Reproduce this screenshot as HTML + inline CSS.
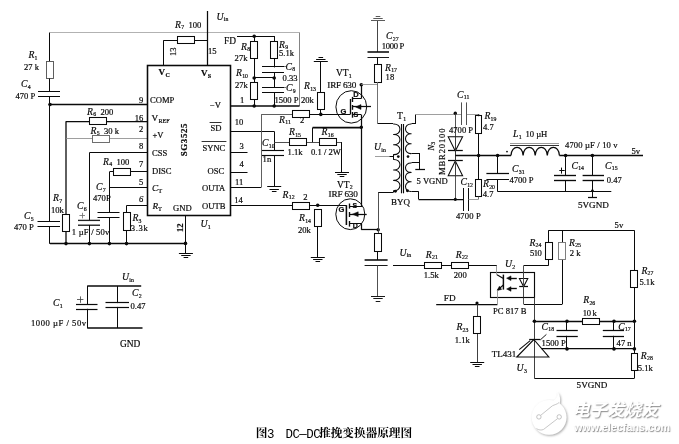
<!DOCTYPE html>
<html lang="zh">
<head>
<meta charset="utf-8">
<title>DC-DC推挽变换器原理图</title>
<style>
html,body{margin:0;padding:0;background:#fff;}
body{width:679px;height:444px;overflow:hidden;position:relative;}
svg{position:absolute;left:0;top:0;display:block;will-change:transform;filter:blur(0.35px);}
svg text{font-family:"Liberation Serif","Noto Serif CJK SC",serif;stroke:#0a0a0a;stroke-width:0.2px;}
.cap{position:absolute;left:0;top:426.2px;margin:0;width:679px;height:16px;font:700 11.7px/16px "Liberation Mono","Noto Serif CJK SC",serif;color:#000;white-space:pre;}
.cap span{position:absolute;top:0;}
.cap .l{font:12.4px/16px "Liberation Mono","Noto Serif CJK SC",monospace;letter-spacing:-0.45px;top:0.5px;}
.wm1{position:absolute;left:572.5px;top:399.5px;font:italic bold 17.2px/20px "Liberation Sans","Noto Sans CJK SC",sans-serif;color:#fff;text-shadow:0.9px 1px 1.3px #8a8a8a;white-space:nowrap;}
.wm2{position:absolute;left:574px;top:421.2px;font:bold 10.8px/12px "Liberation Sans",sans-serif;color:#fff;text-shadow:0.7px 0.9px 1.1px #858585;white-space:nowrap;}
</style>
</head>
<body>
<svg width="679" height="444" viewBox="0 0 679 444">
<defs><filter id="ds" x="-20%" y="-20%" width="150%" height="150%"><feGaussianBlur in="SourceAlpha" stdDeviation="0.9"/><feOffset dx="0.9" dy="1.1" result="b"/><feFlood flood-color="#8c8c8c" flood-opacity="0.75"/><feComposite in2="b" operator="in"/><feMerge><feMergeNode/><feMergeNode in="SourceGraphic"/></feMerge></filter></defs>
<g id="logo" fill="none">
<g filter="url(#ds)"><circle cx="549.1" cy="417.4" r="17.4" fill="#fff"/>
<path d="M552,401.5 C556,399.5 558.4,396 557.2,391.4 C560.4,395.6 561,400 559.2,404.6 Z" fill="#fff"/></g>
<path d="M540.6,415.4 L552.4,405.8 C554.6,404.6 557,404.4 559,402.6 M557.6,418.6 L543.6,429.4 C541.6,430.4 538.6,430.2 536.4,428.6" stroke="#b9b9b9" stroke-width="0.8"/>
<circle cx="538.9" cy="416.9" r="2.2" stroke="#b4b4b4" stroke-width="0.8" fill="#fff"/>
<circle cx="559.2" cy="416.9" r="2.2" stroke="#b4b4b4" stroke-width="0.8" fill="#fff"/>
</g>
<g id="schematic" stroke-linecap="butt">
<line x1="50" y1="32.5" x2="299.5" y2="32.5" stroke="#a2a2a2" stroke-width="0.83"/>
<line x1="299.5" y1="32.5" x2="299.5" y2="106" stroke="#7c7c7c" stroke-width="0.94"/>
<line x1="49.5" y1="32.5" x2="49.5" y2="61.8" stroke="#0a0a0a" stroke-width="1.04"/>
<rect x="46.5" y="61.5" width="7" height="17" fill="#fff" stroke="#555" stroke-width="0.94"/>
<line x1="49.5" y1="78.5" x2="49.5" y2="91.4" stroke="#0a0a0a" stroke-width="1.04"/>
<line x1="38" y1="91.5" x2="60" y2="91.5" stroke="#0a0a0a" stroke-width="1.04"/>
<line x1="38" y1="96.5" x2="60" y2="96.5" stroke="#0a0a0a" stroke-width="1.04"/>
<line x1="49.5" y1="96.8" x2="49.5" y2="222" stroke="#0a0a0a" stroke-width="1.04"/>
<circle cx="50" cy="104.5" r="1.8" fill="#0a0a0a"/>
<line x1="50" y1="104.5" x2="147" y2="104.5" stroke="#0a0a0a" stroke-width="1.3"/>
<line x1="37.5" y1="221.5" x2="60" y2="221.5" stroke="#0a0a0a" stroke-width="1.04"/>
<line x1="37.5" y1="226.5" x2="60" y2="226.5" stroke="#0a0a0a" stroke-width="1.04"/>
<line x1="49.5" y1="227" x2="49.5" y2="243.8" stroke="#0a0a0a" stroke-width="1.04"/>
<line x1="66" y1="121.5" x2="147" y2="121.5" stroke="#0a0a0a" stroke-width="1.25"/>
<rect x="89.5" y="117.5" width="17" height="7" fill="#fff" stroke="#0a0a0a" stroke-width="1.04"/>
<line x1="66" y1="121.3" x2="66" y2="214" stroke="#0a0a0a" stroke-width="1.3"/>
<rect x="62.5" y="214.5" width="7" height="17" fill="#fff" stroke="#0a0a0a" stroke-width="1.04"/>
<line x1="66" y1="232" x2="66" y2="243.8" stroke="#0a0a0a" stroke-width="1.3"/>
<circle cx="66" cy="243.6" r="1.8" fill="#0a0a0a"/>
<line x1="66" y1="138.5" x2="147" y2="138.5" stroke="#8a8a8a" stroke-width="0.83"/>
<rect x="92.5" y="135.5" width="17" height="7" fill="#fff" stroke="#666" stroke-width="0.94"/>
<line x1="89.4" y1="152.5" x2="147" y2="152.5" stroke="#0a0a0a" stroke-width="1.04"/>
<line x1="89.5" y1="152.7" x2="89.5" y2="220.5" stroke="#0a0a0a" stroke-width="1.04"/>
<line x1="78" y1="220.4" x2="100" y2="220.4" stroke="#222" stroke-width="1.35"/>
<line x1="78" y1="225.2" x2="100" y2="225.2" stroke="#0a0a0a" stroke-width="1.25"/>
<line x1="89.5" y1="225" x2="89.5" y2="243.8" stroke="#0a0a0a" stroke-width="1.04"/>
<circle cx="89.4" cy="243.6" r="1.8" fill="#0a0a0a"/>
<line x1="79.4" y1="215.5" x2="85" y2="215.5" stroke="#707070" stroke-width="0.83"/>
<line x1="82.5" y1="212.8" x2="82.5" y2="218.4" stroke="#707070" stroke-width="0.83"/>
<line x1="109.4" y1="171.5" x2="147" y2="171.5" stroke="#0a0a0a" stroke-width="1.04"/>
<rect x="113.5" y="168.5" width="17" height="7" fill="#fff" stroke="#0a0a0a" stroke-width="1.04"/>
<line x1="109.5" y1="172" x2="109.5" y2="212.5" stroke="#0a0a0a" stroke-width="1.04"/>
<line x1="109.4" y1="187.5" x2="147" y2="187.5" stroke="#0a0a0a" stroke-width="1.04"/>
<line x1="97.5" y1="212.5" x2="119.5" y2="212.5" stroke="#0a0a0a" stroke-width="1.04"/>
<line x1="97.5" y1="217.5" x2="119.5" y2="217.5" stroke="#0a0a0a" stroke-width="1.04"/>
<line x1="109.5" y1="218" x2="109.5" y2="243.8" stroke="#0a0a0a" stroke-width="1.04"/>
<circle cx="109.4" cy="243.6" r="1.8" fill="#0a0a0a"/>
<line x1="126.5" y1="205.5" x2="147" y2="205.5" stroke="#0a0a0a" stroke-width="1.04"/>
<line x1="126.5" y1="205.5" x2="126.5" y2="213" stroke="#0a0a0a" stroke-width="1.04"/>
<rect x="123.5" y="212.5" width="7" height="18" fill="#fff" stroke="#0a0a0a" stroke-width="1.04"/>
<line x1="126.5" y1="230.4" x2="126.5" y2="243.8" stroke="#0a0a0a" stroke-width="1.04"/>
<circle cx="126.5" cy="243.6" r="1.8" fill="#0a0a0a"/>
<line x1="50" y1="243.5" x2="185.5" y2="243.5" stroke="#0a0a0a" stroke-width="1.35"/>
<circle cx="185.5" cy="243.4" r="1.8" fill="#0a0a0a"/>
<line x1="185.5" y1="215" x2="185.5" y2="253.4" stroke="#0a0a0a" stroke-width="1.04"/>
<line x1="178.9" y1="253.5" x2="192.9" y2="253.5" stroke="#0a0a0a" stroke-width="1.04"/>
<line x1="181.2" y1="255.5" x2="190.6" y2="255.5" stroke="#0a0a0a" stroke-width="1.04"/>
<line x1="183.6" y1="257.5" x2="188.2" y2="257.5" stroke="#0a0a0a" stroke-width="1.04"/>
<rect x="147.5" y="65.5" width="83" height="150" fill="none" stroke="#0a0a0a" stroke-width="1.56"/>
<line x1="163.5" y1="40.3" x2="163.5" y2="65.5" stroke="#0a0a0a" stroke-width="1.04"/>
<line x1="163.5" y1="40.5" x2="207.5" y2="40.5" stroke="#0a0a0a" stroke-width="1.04"/>
<rect x="177.5" y="36.5" width="17" height="7" fill="#fff" stroke="#0a0a0a" stroke-width="1.04"/>
<line x1="207.5" y1="11" x2="207.5" y2="65.5" stroke="#0a0a0a" stroke-width="1.25"/>
<line x1="230.5" y1="106" x2="299.5" y2="106" stroke="#0a0a0a" stroke-width="1.4"/>
<line x1="230.5" y1="131.5" x2="274" y2="131.5" stroke="#0a0a0a" stroke-width="1.04"/>
<line x1="230.5" y1="152.5" x2="247.5" y2="152.5" stroke="#0a0a0a" stroke-width="1.04"/>
<line x1="230.5" y1="172.5" x2="247.5" y2="172.5" stroke="#0a0a0a" stroke-width="1.04"/>
<line x1="230.5" y1="187.5" x2="261.3" y2="187.5" stroke="#0a0a0a" stroke-width="1.04"/>
<line x1="261.5" y1="187.3" x2="261.5" y2="114.3" stroke="#555" stroke-width="0.94"/>
<line x1="261.3" y1="114.5" x2="292.5" y2="114.5" stroke="#555" stroke-width="0.94"/>
<line x1="230.5" y1="205.5" x2="292.5" y2="205.5" stroke="#0a0a0a" stroke-width="1.04"/>
<line x1="237" y1="36.5" x2="274.2" y2="36.5" stroke="#0a0a0a" stroke-width="1.04"/>
<circle cx="254.2" cy="36.2" r="1.8" fill="#0a0a0a"/>
<line x1="254.5" y1="36" x2="254.5" y2="106" stroke="#0a0a0a" stroke-width="1.04"/>
<rect x="250.5" y="41.5" width="7" height="17" fill="#fff" stroke="#0a0a0a" stroke-width="1.04"/>
<rect x="250.5" y="82.5" width="7" height="17" fill="#fff" stroke="#0a0a0a" stroke-width="1.04"/>
<circle cx="254.2" cy="78" r="1.8" fill="#0a0a0a"/>
<circle cx="254.2" cy="106" r="1.8" fill="#0a0a0a"/>
<line x1="274.5" y1="36" x2="274.5" y2="106" stroke="#0a0a0a" stroke-width="1.04"/>
<rect x="270.5" y="41.5" width="7" height="17" fill="#fff" stroke="#0a0a0a" stroke-width="1.04"/>
<line x1="254.2" y1="77.5" x2="274.2" y2="77.5" stroke="#0a0a0a" stroke-width="1.04"/>
<circle cx="274.2" cy="78" r="1.8" fill="#0a0a0a"/>
<circle cx="274.2" cy="106" r="1.8" fill="#0a0a0a"/>
<rect x="262" y="67.4" width="22" height="4.8" fill="#fff"/>
<rect x="262" y="87.8" width="22" height="4.8" fill="#fff"/>
<line x1="262" y1="66.5" x2="284" y2="66.5" stroke="#0a0a0a" stroke-width="1.04"/>
<line x1="262" y1="72.5" x2="284" y2="72.5" stroke="#0a0a0a" stroke-width="1.04"/>
<line x1="262" y1="87.5" x2="284" y2="87.5" stroke="#0a0a0a" stroke-width="1.04"/>
<line x1="262" y1="92.5" x2="284" y2="92.5" stroke="#0a0a0a" stroke-width="1.04"/>
<line x1="284" y1="66.5" x2="286" y2="66.5" stroke="#555" stroke-width="0.83"/>
<line x1="284" y1="87.5" x2="286" y2="87.5" stroke="#555" stroke-width="0.83"/>
<line x1="274.5" y1="131.3" x2="274.5" y2="151" stroke="#0a0a0a" stroke-width="1.04"/>
<line x1="262" y1="150.5" x2="284" y2="150.5" stroke="#0a0a0a" stroke-width="1.14"/>
<line x1="262" y1="155.5" x2="284" y2="155.5" stroke="#0a0a0a" stroke-width="1.14"/>
<line x1="274.5" y1="155.4" x2="274.5" y2="186.8" stroke="#0a0a0a" stroke-width="1.04"/>
<line x1="267.2" y1="186.5" x2="281.2" y2="186.5" stroke="#0a0a0a" stroke-width="1.04"/>
<line x1="269.5" y1="189.5" x2="278.9" y2="189.5" stroke="#0a0a0a" stroke-width="1.04"/>
<line x1="271.9" y1="191.5" x2="276.5" y2="191.5" stroke="#0a0a0a" stroke-width="1.04"/>
<line x1="274.2" y1="142.5" x2="342" y2="142.5" stroke="#444" stroke-width="0.94"/>
<rect x="289.5" y="138.5" width="17" height="7" fill="#fff" stroke="#0a0a0a" stroke-width="1.04"/>
<rect x="319.5" y="138.5" width="17" height="7" fill="#fff" stroke="#0a0a0a" stroke-width="1.04"/>
<line x1="341.5" y1="142.2" x2="341.5" y2="172.5" stroke="#0a0a0a" stroke-width="1.04"/>
<line x1="335" y1="172.5" x2="349" y2="172.5" stroke="#0a0a0a" stroke-width="1.04"/>
<line x1="337.3" y1="174.5" x2="346.7" y2="174.5" stroke="#0a0a0a" stroke-width="1.04"/>
<line x1="339.7" y1="176.5" x2="344.3" y2="176.5" stroke="#0a0a0a" stroke-width="1.04"/>
<rect x="292.5" y="110.5" width="17" height="7" fill="#fff" stroke="#0a0a0a" stroke-width="1.04"/>
<line x1="309.6" y1="114.5" x2="350.3" y2="114.5" stroke="#0a0a0a" stroke-width="1.04"/>
<circle cx="320.8" cy="114.4" r="1.8" fill="#0a0a0a"/>
<line x1="320.5" y1="62" x2="320.5" y2="93" stroke="#0a0a0a" stroke-width="1.04"/>
<line x1="313.8" y1="61.5" x2="327.8" y2="61.5" stroke="#0a0a0a" stroke-width="1.04"/>
<line x1="316.1" y1="59.5" x2="325.5" y2="59.5" stroke="#0a0a0a" stroke-width="1.04"/>
<line x1="318.5" y1="57.5" x2="323.1" y2="57.5" stroke="#0a0a0a" stroke-width="1.04"/>
<rect x="317.5" y="92.5" width="7" height="17" fill="#fff" stroke="#0a0a0a" stroke-width="1.04"/>
<line x1="320.5" y1="110" x2="320.5" y2="114.4" stroke="#0a0a0a" stroke-width="1.04"/>
<rect x="292.5" y="202.5" width="17" height="7" fill="#fff" stroke="#0a0a0a" stroke-width="1.04"/>
<line x1="309.7" y1="205.5" x2="346.4" y2="205.5" stroke="#0a0a0a" stroke-width="1.04"/>
<circle cx="317.7" cy="205.3" r="1.8" fill="#0a0a0a"/>
<rect x="314.5" y="209.5" width="7" height="17" fill="#fff" stroke="#0a0a0a" stroke-width="1.04"/>
<line x1="317.5" y1="226.5" x2="317.5" y2="257.5" stroke="#0a0a0a" stroke-width="1.04"/>
<line x1="310.8" y1="257.5" x2="324.8" y2="257.5" stroke="#0a0a0a" stroke-width="1.04"/>
<line x1="313.1" y1="259.5" x2="322.5" y2="259.5" stroke="#0a0a0a" stroke-width="1.04"/>
<line x1="315.5" y1="261.5" x2="320.1" y2="261.5" stroke="#0a0a0a" stroke-width="1.04"/>
<ellipse cx="351.3" cy="106.9" rx="15.4" ry="16.2" fill="none" stroke="#0a0a0a" stroke-width="1"/>
<circle cx="361.3" cy="84.8" r="1.8" fill="#0a0a0a"/>
<line x1="361.5" y1="84.8" x2="361.5" y2="98.6" stroke="#0a0a0a" stroke-width="1.25"/>
<line x1="352.6" y1="98.5" x2="361.3" y2="98.5" stroke="#0a0a0a" stroke-width="1.04"/>
<line x1="350.5" y1="99" x2="350.5" y2="114.4" stroke="#0a0a0a" stroke-width="1.35"/>
<line x1="352.5" y1="96.9" x2="352.5" y2="102" stroke="#0a0a0a" stroke-width="1.35"/>
<line x1="352.5" y1="105" x2="352.5" y2="109.8" stroke="#0a0a0a" stroke-width="1.35"/>
<line x1="352.5" y1="112" x2="352.5" y2="117.7" stroke="#0a0a0a" stroke-width="1.35"/>
<line x1="352.8" y1="106.5" x2="371" y2="106.5" stroke="#0a0a0a" stroke-width="1.25"/>
<polygon points="355.6,107 361,104.6 361,109.4" fill="#0a0a0a" stroke="#0a0a0a" stroke-width="0.52"/>
<line x1="352.8" y1="114.5" x2="361.3" y2="114.5" stroke="#0a0a0a" stroke-width="1.04"/>
<line x1="361.5" y1="114.7" x2="361.5" y2="127" stroke="#0a0a0a" stroke-width="1.25"/>
<circle cx="361.3" cy="127.2" r="1.7" fill="#0a0a0a"/>
<line x1="312.6" y1="127.6" x2="361.3" y2="127.6" stroke="#0a0a0a" stroke-width="1.66"/>
<line x1="312.5" y1="127.6" x2="312.5" y2="142.2" stroke="#0a0a0a" stroke-width="1.04"/>
<line x1="361.5" y1="127" x2="361.5" y2="207" stroke="#0a0a0a" stroke-width="1.25"/>
<line x1="361.3" y1="84.5" x2="378" y2="84.5" stroke="#8a8a8a" stroke-width="0.83"/>
<ellipse cx="350.3" cy="214.2" rx="14.5" ry="15.4" fill="none" stroke="#0a0a0a" stroke-width="1"/>
<line x1="346.4" y1="205.2" x2="346.4" y2="225" stroke="#0a0a0a" stroke-width="1.56"/>
<line x1="349.5" y1="203.5" x2="349.5" y2="208.6" stroke="#0a0a0a" stroke-width="1.35"/>
<line x1="349.5" y1="212" x2="349.5" y2="217" stroke="#0a0a0a" stroke-width="1.35"/>
<line x1="349.5" y1="221" x2="349.5" y2="226.6" stroke="#0a0a0a" stroke-width="1.35"/>
<line x1="349.3" y1="206.5" x2="361.5" y2="206.5" stroke="#0a0a0a" stroke-width="1.04"/>
<line x1="349.3" y1="214.5" x2="366.7" y2="214.5" stroke="#0a0a0a" stroke-width="1.25"/>
<polygon points="352.4,214.2 358.2,211.8 358.2,216.6" fill="#0a0a0a" stroke="#0a0a0a" stroke-width="0.52"/>
<line x1="349.3" y1="223.5" x2="361.2" y2="223.5" stroke="#0a0a0a" stroke-width="1.04"/>
<line x1="361.5" y1="223.6" x2="361.5" y2="229.7" stroke="#0a0a0a" stroke-width="1.25"/>
<line x1="361.2" y1="229.5" x2="378.2" y2="229.5" stroke="#0a0a0a" stroke-width="1.25"/>
<circle cx="378.2" cy="229.7" r="1.7" fill="#0a0a0a"/>
<line x1="378.5" y1="192.3" x2="378.5" y2="234" stroke="#444" stroke-width="0.94"/>
<rect x="374.5" y="233.5" width="7" height="18" fill="#fff" stroke="#0a0a0a" stroke-width="1.04"/>
<line x1="377.5" y1="251.5" x2="377.5" y2="260" stroke="#0a0a0a" stroke-width="1.04"/>
<line x1="364.6" y1="260" x2="387.6" y2="260" stroke="#0a0a0a" stroke-width="1.56"/>
<line x1="364.6" y1="265.5" x2="387.6" y2="265.5" stroke="#0a0a0a" stroke-width="0.94"/>
<line x1="377.5" y1="265.4" x2="377.5" y2="296.7" stroke="#444" stroke-width="0.94"/>
<line x1="371" y1="296.5" x2="385" y2="296.5" stroke="#0a0a0a" stroke-width="0.94"/>
<line x1="373.3" y1="298.5" x2="382.7" y2="298.5" stroke="#0a0a0a" stroke-width="0.94"/>
<line x1="375.7" y1="301.5" x2="380.3" y2="301.5" stroke="#0a0a0a" stroke-width="0.94"/>
<line x1="371" y1="20.5" x2="385" y2="20.5" stroke="#444" stroke-width="0.88"/>
<line x1="373.3" y1="18.5" x2="382.7" y2="18.5" stroke="#444" stroke-width="0.88"/>
<line x1="375.7" y1="16.5" x2="380.3" y2="16.5" stroke="#444" stroke-width="0.88"/>
<line x1="377.5" y1="21" x2="377.5" y2="52" stroke="#3a3a3a" stroke-width="0.94"/>
<line x1="367.5" y1="52" x2="389" y2="52" stroke="#0a0a0a" stroke-width="1.56"/>
<line x1="367.5" y1="57.5" x2="389" y2="57.5" stroke="#0a0a0a" stroke-width="0.94"/>
<line x1="377.5" y1="57.4" x2="377.5" y2="64.6" stroke="#0a0a0a" stroke-width="1.04"/>
<rect x="374.5" y="64.5" width="7" height="18" fill="#fff" stroke="#0a0a0a" stroke-width="1.04"/>
<line x1="377.5" y1="82" x2="377.5" y2="124" stroke="#666" stroke-width="0.94"/>
<line x1="378" y1="123.5" x2="393" y2="123.5" stroke="#0a0a0a" stroke-width="1.04"/>
<path d="M393.2,124 C402.2,123.4 402.2,135.1 393.2,134.5 C402.2,133.9 402.2,145.4 393.2,144.8 C402.2,144.2 402.2,155.2 393.2,154.6" fill="none" stroke="#0a0a0a" stroke-width="1.04"/>
<line x1="393.5" y1="154.6" x2="393.5" y2="159.5" stroke="#0a0a0a" stroke-width="1.04"/>
<line x1="389.3" y1="156.5" x2="393.2" y2="156.5" stroke="#0a0a0a" stroke-width="1.04"/>
<line x1="375" y1="156.5" x2="389.3" y2="156.5" stroke="#8a8a8a" stroke-width="0.83"/>
<path d="M393.2,159.5 C402.2,158.9 402.2,170.6 393.2,170 C402.2,169.4 402.2,181 393.2,180.4 C402.2,179.8 402.2,191.4 393.2,190.8" fill="none" stroke="#0a0a0a" stroke-width="1.04"/>
<line x1="393.5" y1="190.8" x2="393.5" y2="192.5" stroke="#0a0a0a" stroke-width="1.04"/>
<line x1="378.3" y1="192.5" x2="393.2" y2="192.5" stroke="#0a0a0a" stroke-width="1.04"/>
<circle cx="398.3" cy="156.6" r="1.35" fill="#0a0a0a"/>
<circle cx="395.4" cy="191.2" r="1.45" fill="#0a0a0a"/>
<line x1="401.5" y1="124" x2="401.5" y2="193.3" stroke="#0a0a0a" stroke-width="1.14"/>
<line x1="403.5" y1="124" x2="403.5" y2="193.3" stroke="#0a0a0a" stroke-width="1.14"/>
<line x1="415.5" y1="114.5" x2="415.5" y2="124" stroke="#0a0a0a" stroke-width="1.04"/>
<line x1="411.5" y1="123.5" x2="415.5" y2="123.5" stroke="#0a0a0a" stroke-width="1.04"/>
<path d="M411.5,124 C403.5,123.4 403.5,134.4 411.5,133.8 C403.5,133.2 403.5,144.4 411.5,143.8 C403.5,143.2 403.5,154.2 411.5,153.6" fill="none" stroke="#0a0a0a" stroke-width="1.04"/>
<line x1="411.5" y1="153.5" x2="420" y2="153.5" stroke="#0a0a0a" stroke-width="1.04"/>
<line x1="411.5" y1="162.5" x2="420" y2="162.5" stroke="#0a0a0a" stroke-width="1.04"/>
<path d="M411.5,163 C403.5,162.4 403.5,173 411.5,172.4 C403.5,171.8 403.5,182.4 411.5,181.8 C403.5,181.2 403.5,192 411.5,191.4" fill="none" stroke="#0a0a0a" stroke-width="1.04"/>
<circle cx="408" cy="156.6" r="1.35" fill="#0a0a0a"/>
<circle cx="407.4" cy="190.8" r="1.45" fill="#0a0a0a"/>
<line x1="419.5" y1="153.6" x2="419.5" y2="170" stroke="#0a0a0a" stroke-width="1.04"/>
<line x1="415.3" y1="169.5" x2="425" y2="169.5" stroke="#0a0a0a" stroke-width="1.25"/>
<line x1="411.5" y1="191.5" x2="418.6" y2="191.5" stroke="#0a0a0a" stroke-width="1.04"/>
<line x1="418.5" y1="191.4" x2="418.5" y2="199.3" stroke="#0a0a0a" stroke-width="1.04"/>
<line x1="418.6" y1="199.5" x2="463.4" y2="199.5" stroke="#0a0a0a" stroke-width="1.25"/>
<line x1="415.5" y1="114.5" x2="461.6" y2="114.5" stroke="#8a8a8a" stroke-width="0.83"/>
<circle cx="455.3" cy="113.2" r="1.7" fill="#0a0a0a"/>
<line x1="455.5" y1="113.5" x2="455.5" y2="199.3" stroke="#3c3c3c" stroke-width="0.88"/>
<circle cx="455.3" cy="199.3" r="1.6" fill="#0a0a0a"/>
<polygon points="448.2,136.8 462.6,136.8 455.3,151" fill="#fff" stroke="#0a0a0a" stroke-width="1.04"/>
<line x1="448" y1="150.5" x2="462.8" y2="150.5" stroke="#0a0a0a" stroke-width="1.25"/>
<polygon points="448.2,175.7 462.6,175.7 455.3,161" fill="#fff" stroke="#0a0a0a" stroke-width="1.04"/>
<line x1="448" y1="160.5" x2="462.8" y2="160.5" stroke="#0a0a0a" stroke-width="1.25"/>
<line x1="455.5" y1="136.8" x2="455.5" y2="175.7" stroke="#333" stroke-width="0.94"/>
<line x1="461.5" y1="102.4" x2="461.5" y2="125" stroke="#444" stroke-width="0.94"/>
<line x1="466.5" y1="102.4" x2="466.5" y2="125" stroke="#444" stroke-width="0.94"/>
<line x1="466.9" y1="114.5" x2="478.6" y2="114.5" stroke="#8a8a8a" stroke-width="0.83"/>
<rect x="475.5" y="115.5" width="6" height="18" fill="#fff" stroke="#0a0a0a" stroke-width="1.04"/>
<circle cx="478.6" cy="115.3" r="1" fill="#0a0a0a"/>
<line x1="478.5" y1="133.4" x2="478.5" y2="179.4" stroke="#0a0a0a" stroke-width="1.04"/>
<line x1="463.5" y1="188" x2="463.5" y2="211" stroke="#0a0a0a" stroke-width="0.99"/>
<line x1="468.5" y1="188" x2="468.5" y2="211" stroke="#0a0a0a" stroke-width="0.99"/>
<rect x="475.5" y="179.5" width="6" height="17" fill="#fff" stroke="#0a0a0a" stroke-width="1.04"/>
<line x1="478.5" y1="196.6" x2="478.5" y2="199.3" stroke="#555" stroke-width="0.83"/>
<line x1="468.5" y1="199.5" x2="478.6" y2="199.5" stroke="#8a8a8a" stroke-width="0.83"/>
<line x1="455.3" y1="155.5" x2="511" y2="155.5" stroke="#0a0a0a" stroke-width="1.56"/>
<circle cx="478.6" cy="155.5" r="1.8" fill="#0a0a0a"/>
<circle cx="497.6" cy="155.5" r="1.8" fill="#0a0a0a"/>
<circle cx="507" cy="151.6" r="0.9" fill="#0a0a0a"/>
<path d="M511,155.5 C511.4,144.6 522.7,144.6 523.1,155.5 C523.5,144.6 534.8,144.6 535.2,155.5 C535.6,144.6 546.9,144.6 547.3,155.5 C547.7,144.6 559,144.6 559.4,155.5" fill="none" stroke="#0a0a0a" stroke-width="1.25"/>
<line x1="510" y1="143.5" x2="559" y2="143.5" stroke="#777" stroke-width="0.73"/>
<line x1="510" y1="145.5" x2="559" y2="145.5" stroke="#333" stroke-width="1.04"/>
<line x1="559.4" y1="155.5" x2="643" y2="155.5" stroke="#0a0a0a" stroke-width="1.35"/>
<circle cx="565.6" cy="155.5" r="1.8" fill="#0a0a0a"/>
<circle cx="592.4" cy="155.5" r="1.8" fill="#0a0a0a"/>
<line x1="497.5" y1="155.5" x2="497.5" y2="174" stroke="#0a0a0a" stroke-width="1.04"/>
<line x1="486.4" y1="173.5" x2="509" y2="173.5" stroke="#0a0a0a" stroke-width="1.25"/>
<line x1="486.4" y1="179.5" x2="509" y2="179.5" stroke="#0a0a0a" stroke-width="1.04"/>
<line x1="497.5" y1="180" x2="497.5" y2="191.6" stroke="#0a0a0a" stroke-width="1.04"/>
<line x1="497.6" y1="191.5" x2="611.3" y2="191.5" stroke="#0a0a0a" stroke-width="1.14"/>
<line x1="565.5" y1="155.5" x2="565.5" y2="175.4" stroke="#0a0a0a" stroke-width="1.04"/>
<line x1="554" y1="175.5" x2="576" y2="175.5" stroke="#0a0a0a" stroke-width="1.35"/>
<line x1="554" y1="180.5" x2="576" y2="180.5" stroke="#0a0a0a" stroke-width="1.35"/>
<line x1="565.5" y1="180.4" x2="565.5" y2="191.6" stroke="#0a0a0a" stroke-width="1.04"/>
<line x1="559.3" y1="170.5" x2="564.7" y2="170.5" stroke="#0a0a0a" stroke-width="1.04"/>
<line x1="561.5" y1="167.6" x2="561.5" y2="173.6" stroke="#0a0a0a" stroke-width="1.04"/>
<line x1="592.5" y1="155.5" x2="592.5" y2="175.4" stroke="#0a0a0a" stroke-width="1.04"/>
<line x1="582.6" y1="175.5" x2="604" y2="175.5" stroke="#0a0a0a" stroke-width="1.35"/>
<line x1="582.6" y1="180.5" x2="604" y2="180.5" stroke="#0a0a0a" stroke-width="1.35"/>
<line x1="592.5" y1="180.4" x2="592.5" y2="197.8" stroke="#0a0a0a" stroke-width="1.04"/>
<circle cx="592.4" cy="190.8" r="1.4" fill="#0a0a0a"/>
<line x1="588" y1="197.5" x2="597" y2="197.5" stroke="#0a0a0a" stroke-width="1.25"/>
<line x1="548.5" y1="230.5" x2="634.4" y2="230.5" stroke="#0a0a0a" stroke-width="1.04"/>
<line x1="548.5" y1="230.3" x2="548.5" y2="265.5" stroke="#0a0a0a" stroke-width="1.04"/>
<rect x="545.5" y="242.5" width="7" height="17" fill="#fff" stroke="#0a0a0a" stroke-width="1.04"/>
<line x1="523.7" y1="265.5" x2="548.6" y2="265.5" stroke="#0a0a0a" stroke-width="1.04"/>
<line x1="523.5" y1="265.5" x2="523.5" y2="304.1" stroke="#444" stroke-width="0.94"/>
<line x1="562.5" y1="230.3" x2="562.5" y2="304.1" stroke="#0a0a0a" stroke-width="1.04"/>
<rect x="558.5" y="242.5" width="7" height="17" fill="#fff" stroke="#777" stroke-width="0.94"/>
<line x1="523.7" y1="304.5" x2="562.3" y2="304.5" stroke="#0a0a0a" stroke-width="1.04"/>
<line x1="634.5" y1="230.3" x2="634.5" y2="378.3" stroke="#0a0a0a" stroke-width="1.04"/>
<rect x="630.5" y="270.5" width="7" height="17" fill="#fff" stroke="#0a0a0a" stroke-width="1.04"/>
<rect x="631.5" y="353.5" width="6" height="17" fill="#fff" stroke="#0a0a0a" stroke-width="1.04"/>
<circle cx="634.4" cy="321.3" r="1.8" fill="#0a0a0a"/>
<circle cx="634.4" cy="348.9" r="1.8" fill="#0a0a0a"/>
<rect x="490.5" y="272.5" width="44" height="25" fill="none" stroke="#0a0a0a" stroke-width="1.14"/>
<line x1="393" y1="265.5" x2="497" y2="265.5" stroke="#0a0a0a" stroke-width="1.04"/>
<rect x="424.5" y="262.5" width="17" height="6" fill="#fff" stroke="#0a0a0a" stroke-width="1.04"/>
<rect x="451.5" y="262.5" width="17" height="6" fill="#fff" stroke="#0a0a0a" stroke-width="1.04"/>
<line x1="496.5" y1="265.5" x2="496.5" y2="274.8" stroke="#8a8a8a" stroke-width="0.83"/>
<line x1="497" y1="274.8" x2="503.4" y2="278.6" stroke="#0a0a0a" stroke-width="1.14"/>
<line x1="503.4" y1="274.6" x2="503.4" y2="289.6" stroke="#0a0a0a" stroke-width="1.46"/>
<line x1="503.4" y1="285" x2="497.6" y2="290" stroke="#0a0a0a" stroke-width="1.14"/>
<polygon points="497.2,290.4 501.6,289.4 499.4,286.2" fill="#0a0a0a" stroke="#0a0a0a" stroke-width="0.52"/>
<line x1="497.5" y1="290" x2="497.5" y2="304.2" stroke="#8a8a8a" stroke-width="0.83"/>
<line x1="510" y1="278.5" x2="516.8" y2="278.5" stroke="#0a0a0a" stroke-width="1.35"/>
<polygon points="506.6,278.2 511,275.9 511,280.5" fill="#0a0a0a" stroke="#0a0a0a" stroke-width="0.52"/>
<line x1="510" y1="288.5" x2="516.8" y2="288.5" stroke="#0a0a0a" stroke-width="1.35"/>
<polygon points="506.6,289 511,286.7 511,291.3" fill="#0a0a0a" stroke="#0a0a0a" stroke-width="0.52"/>
<polygon points="519.4,278.4 527.8,278.4 523.6,286.5" fill="#fff" stroke="#0a0a0a" stroke-width="1.04"/>
<line x1="519.2" y1="286.5" x2="528" y2="286.5" stroke="#0a0a0a" stroke-width="1.25"/>
<line x1="523.5" y1="272" x2="523.5" y2="297.4" stroke="#444" stroke-width="0.94"/>
<line x1="436.2" y1="304.5" x2="497.4" y2="304.5" stroke="#0a0a0a" stroke-width="1.25"/>
<circle cx="477" cy="303" r="1.6" fill="#0a0a0a"/>
<line x1="477.5" y1="304" x2="477.5" y2="362.5" stroke="#333" stroke-width="0.94"/>
<rect x="473.5" y="316.5" width="7" height="17" fill="#fff" stroke="#0a0a0a" stroke-width="1.04"/>
<line x1="470.2" y1="362.5" x2="484.2" y2="362.5" stroke="#0a0a0a" stroke-width="1.04"/>
<line x1="472.5" y1="364.5" x2="481.9" y2="364.5" stroke="#0a0a0a" stroke-width="1.04"/>
<line x1="474.9" y1="366.5" x2="479.5" y2="366.5" stroke="#0a0a0a" stroke-width="1.04"/>
<line x1="534.5" y1="297.4" x2="534.5" y2="378.3" stroke="#333" stroke-width="0.94"/>
<circle cx="534.4" cy="321.3" r="1.8" fill="#0a0a0a"/>
<line x1="534.4" y1="321.5" x2="634.4" y2="321.5" stroke="#0a0a0a" stroke-width="1.35"/>
<rect x="582.5" y="318.5" width="17" height="6" fill="#fff" stroke="#0a0a0a" stroke-width="1.04"/>
<circle cx="567" cy="321.3" r="1.8" fill="#0a0a0a"/>
<circle cx="614" cy="321.3" r="1.8" fill="#0a0a0a"/>
<line x1="566.5" y1="321.3" x2="566.5" y2="348.9" stroke="#0a0a0a" stroke-width="1.04"/>
<line x1="613.5" y1="321.3" x2="613.5" y2="348.9" stroke="#0a0a0a" stroke-width="1.04"/>
<rect x="556.5" y="331" width="21.3" height="4.8" fill="#fff"/>
<rect x="602.8" y="331" width="21.3" height="4.8" fill="#fff"/>
<line x1="556.5" y1="330.5" x2="577.8" y2="330.5" stroke="#0a0a0a" stroke-width="1.25"/>
<line x1="556.5" y1="336.5" x2="577.8" y2="336.5" stroke="#0a0a0a" stroke-width="1.25"/>
<line x1="602.8" y1="330.5" x2="624" y2="330.5" stroke="#0a0a0a" stroke-width="1.25"/>
<line x1="602.8" y1="336.5" x2="624" y2="336.5" stroke="#0a0a0a" stroke-width="1.25"/>
<circle cx="567" cy="348.9" r="1.8" fill="#0a0a0a"/>
<circle cx="614" cy="348.9" r="1.8" fill="#0a0a0a"/>
<line x1="541.5" y1="348.5" x2="634.4" y2="348.5" stroke="#0a0a0a" stroke-width="1.25"/>
<line x1="534.4" y1="378.5" x2="634.4" y2="378.5" stroke="#0a0a0a" stroke-width="1.04"/>
<polygon points="516.8,357 548.8,357 533.8,339.5" fill="none" stroke="#0a0a0a" stroke-width="1.14"/>
<line x1="519.2" y1="349.6" x2="530.2" y2="340.6" stroke="#0a0a0a" stroke-width="1.04"/>
<line x1="529.2" y1="339.5" x2="540.4" y2="339.5" stroke="#0a0a0a" stroke-width="1.25"/>
<line x1="540.4" y1="339.8" x2="546.4" y2="334.4" stroke="#0a0a0a" stroke-width="0.94"/>
<line x1="87.2" y1="286" x2="141.2" y2="286" stroke="#0a0a0a" stroke-width="1.51"/>
<line x1="87.2" y1="328" x2="142.5" y2="328" stroke="#0a0a0a" stroke-width="1.51"/>
<line x1="87.5" y1="286" x2="87.5" y2="328" stroke="#0a0a0a" stroke-width="1.04"/>
<line x1="117.5" y1="286" x2="117.5" y2="328" stroke="#0a0a0a" stroke-width="1.04"/>
<rect x="76" y="305" width="21.5" height="3.8" fill="#fff"/>
<rect x="105.5" y="303.1" width="23.5" height="3.8" fill="#fff"/>
<line x1="76" y1="304.5" x2="97.5" y2="304.5" stroke="#0a0a0a" stroke-width="1.2"/>
<line x1="76" y1="309.5" x2="97.5" y2="309.5" stroke="#0a0a0a" stroke-width="1.2"/>
<line x1="105.5" y1="302.5" x2="129" y2="302.5" stroke="#0a0a0a" stroke-width="1.2"/>
<line x1="105.5" y1="307.5" x2="129" y2="307.5" stroke="#0a0a0a" stroke-width="1.2"/>
<line x1="77" y1="299.5" x2="83.4" y2="299.5" stroke="#444" stroke-width="0.83"/>
<line x1="80.5" y1="296.4" x2="80.5" y2="302.8" stroke="#444" stroke-width="0.83"/>
<text x="28.4" y="58.2" font-size="9.7" fill="#0a0a0a"><tspan font-style="italic">R</tspan><tspan font-size="5.8" dy="1.6" dx="0.3">1</tspan></text>
<text x="24" y="70" font-size="8.6" fill="#0a0a0a" text-anchor="start">27 k</text>
<text x="21" y="87" font-size="9.7" fill="#0a0a0a"><tspan font-style="italic">C</tspan><tspan font-size="5.8" dy="1.6" dx="0.3">4</tspan></text>
<text x="15.5" y="99.2" font-size="8.6" fill="#0a0a0a" text-anchor="start">470 P</text>
<text x="24" y="219" font-size="9.7" fill="#0a0a0a"><tspan font-style="italic">C</tspan><tspan font-size="5.8" dy="1.6" dx="0.3">5</tspan></text>
<text x="14" y="229.6" font-size="8.6" fill="#0a0a0a" text-anchor="start">470 P</text>
<text x="53" y="201.4" font-size="9.7" fill="#0a0a0a"><tspan font-style="italic">R</tspan><tspan font-size="5.8" dy="1.6" dx="0.3">7</tspan></text>
<text x="51" y="213" font-size="8.6" fill="#0a0a0a" text-anchor="start">10k</text>
<text x="77" y="209" font-size="9.7" fill="#0a0a0a"><tspan font-style="italic">C</tspan><tspan font-size="5.8" dy="1.6" dx="0.3">6</tspan></text>
<text x="71.8" y="234.6" font-size="8.6" fill="#0a0a0a" text-anchor="start" textLength="37.6">1 µF / 50v</text>
<text x="96" y="190" font-size="9.7" fill="#0a0a0a"><tspan font-style="italic">C</tspan><tspan font-size="5.8" dy="1.6" dx="0.3">7</tspan></text>
<text x="93" y="200.6" font-size="8.6" fill="#0a0a0a" text-anchor="start">470P</text>
<text x="132.4" y="221" font-size="9.7" fill="#0a0a0a"><tspan font-style="italic">R</tspan><tspan font-size="5.8" dy="1.6" dx="0.3">3</tspan></text>
<text x="130.8" y="231.2" font-size="8.6" fill="#0a0a0a" text-anchor="start" textLength="17">3.3k</text>
<text x="87" y="114.6" font-size="9.7" fill="#0a0a0a"><tspan font-style="italic">R</tspan><tspan font-size="5.8" dy="1.6" dx="0.3">6</tspan></text>
<text x="100.5" y="114.6" font-size="8.6" fill="#0a0a0a" text-anchor="start">200</text>
<text x="90.5" y="133.6" font-size="9.7" fill="#0a0a0a"><tspan font-style="italic">R</tspan><tspan font-size="5.8" dy="1.6" dx="0.3">5</tspan></text>
<text x="104" y="133.8" font-size="8.6" fill="#0a0a0a" text-anchor="start" textLength="15">30 k</text>
<text x="103" y="164.6" font-size="9.7" fill="#0a0a0a"><tspan font-style="italic">R</tspan><tspan font-size="5.8" dy="1.6" dx="0.3">4</tspan></text>
<text x="116.5" y="164.6" font-size="8.6" fill="#0a0a0a" text-anchor="start">100</text>
<text x="175" y="27.5" font-size="9.7" fill="#0a0a0a"><tspan font-style="italic">R</tspan><tspan font-size="5.8" dy="1.6" dx="0.3">7</tspan></text>
<text x="188.5" y="27.5" font-size="8.6" fill="#0a0a0a" text-anchor="start">100</text>
<text x="216.5" y="19.5" font-size="9.7" fill="#0a0a0a"><tspan font-style="italic">U</tspan><tspan font-size="5.8" dy="1.6" dx="0.3">in</tspan></text>
<text x="122" y="280" font-size="9.7" fill="#0a0a0a"><tspan font-style="italic">U</tspan><tspan font-size="5.8" dy="1.6" dx="0.3">in</tspan></text>
<text x="53" y="306" font-size="9.7" fill="#0a0a0a"><tspan font-style="italic">C</tspan><tspan font-size="5.8" dy="1.6" dx="0.3">1</tspan></text>
<text x="31" y="325.6" font-size="8.6" fill="#0a0a0a" text-anchor="start" textLength="55">1000 µF  / 50v</text>
<text x="132" y="296" font-size="9.7" fill="#0a0a0a"><tspan font-style="italic">C</tspan><tspan font-size="5.8" dy="1.6" dx="0.3">2</tspan></text>
<text x="130.5" y="308.6" font-size="8.6" fill="#0a0a0a" text-anchor="start">0.47</text>
<text x="120" y="346.5" font-size="9.4" fill="#0a0a0a" text-anchor="start">GND</text>
<text x="139" y="102.6" font-size="8.6" fill="#0a0a0a" text-anchor="start">9</text>
<text x="134.8" y="120.6" font-size="8.6" fill="#0a0a0a" text-anchor="start">16</text>
<text x="139" y="132" font-size="8.6" fill="#0a0a0a" text-anchor="start">2</text>
<text x="139" y="149" font-size="8.6" fill="#0a0a0a" text-anchor="start">8</text>
<text x="139" y="167" font-size="8.6" fill="#0a0a0a" text-anchor="start">7</text>
<text x="139" y="184.6" font-size="8.6" fill="#0a0a0a" text-anchor="start">5</text>
<text x="139" y="202" font-size="8.6" fill="#0a0a0a" text-anchor="start" font-style="italic">6</text>
<text x="240" y="102.6" font-size="8.6" fill="#0a0a0a" text-anchor="start">1</text>
<text x="234.7" y="124.7" font-size="8.6" fill="#0a0a0a" text-anchor="start">10</text>
<text x="239.5" y="149" font-size="8.6" fill="#0a0a0a" text-anchor="start">3</text>
<text x="239.5" y="167.2" font-size="8.6" fill="#0a0a0a" text-anchor="start">4</text>
<text x="235.1" y="184.7" font-size="8.6" fill="#0a0a0a" text-anchor="start">11</text>
<text x="234.2" y="202.6" font-size="8.6" fill="#0a0a0a" text-anchor="start">14</text>
<text x="207.9" y="54.1" font-size="8.6" fill="#0a0a0a" text-anchor="start">15</text>
<text x="175.6" y="56" font-size="8.6" fill="#0a0a0a" text-anchor="start" transform="rotate(-90 175.6 56)" stroke-width="0.3">13</text>
<text x="182.6" y="232" font-size="8.6" fill="#0a0a0a" text-anchor="start" font-weight="bold" transform="rotate(-90 182.6 232)">12</text>
<text x="158.6" y="75" font-size="9" fill="#0a0a0a" font-weight="bold"><tspan>V</tspan><tspan font-size="6" dy="1.6" dx="0.3">C</tspan></text>
<text x="201" y="76" font-size="9" fill="#0a0a0a" font-weight="bold"><tspan>V</tspan><tspan font-size="6" dy="1.6" dx="0.3">S</tspan></text>
<text x="150" y="103" font-size="8.6" fill="#0a0a0a" text-anchor="start">COMP</text>
<text x="151.6" y="121" font-size="9.2" fill="#0a0a0a"><tspan>V</tspan><tspan font-size="6" dy="1.6" dx="0.3">REF</tspan></text>
<text x="152.4" y="138" font-size="8.6" fill="#0a0a0a" text-anchor="start">+V</text>
<text x="152" y="156.2" font-size="8.6" fill="#0a0a0a" text-anchor="start">CSS</text>
<text x="152" y="174" font-size="8.6" fill="#0a0a0a" text-anchor="start">DISC</text>
<text x="152" y="191" font-size="9.2" fill="#0a0a0a"><tspan font-style="italic">C</tspan><tspan font-size="6.4" dy="1.6">T</tspan></text>
<text x="152.4" y="209" font-size="9.2" fill="#0a0a0a"><tspan font-style="italic">R</tspan><tspan font-size="6.4" dy="1.6">T</tspan></text>
<text x="173" y="210.6" font-size="8.6" fill="#0a0a0a" text-anchor="start">GND</text>
<text x="202" y="209" font-size="8.6" fill="#0a0a0a" text-anchor="start">OUTB</text>
<text x="202" y="191" font-size="8.6" fill="#0a0a0a" text-anchor="start">OUTA</text>
<text x="207.6" y="174" font-size="8.6" fill="#0a0a0a" text-anchor="start">OSC</text>
<text x="202.4" y="151" font-size="8.6" fill="#0a0a0a" text-anchor="start">SYNC</text>
<line x1="201.6" y1="141.5" x2="226.4" y2="141.5" stroke="#0a0a0a" stroke-width="0.83"/>
<text x="210.4" y="131" font-size="8.6" fill="#0a0a0a" text-anchor="start">SD</text>
<line x1="209.6" y1="122.5" x2="221.6" y2="122.5" stroke="#0a0a0a" stroke-width="0.83"/>
<text x="210" y="107.8" font-size="8.6" fill="#0a0a0a" text-anchor="start">−V</text>
<text x="187.2" y="156.2" font-size="8.9" fill="#0a0a0a" text-anchor="start" font-weight="bold" transform="rotate(-90 187.2 156.2)" textLength="32.6">SG3525</text>
<text x="200.4" y="227.2" font-size="9.7" fill="#0a0a0a"><tspan font-style="italic">U</tspan><tspan font-size="5.8" dy="1.6" dx="0.3">1</tspan></text>
<text x="224" y="44" font-size="9.4" fill="#0a0a0a" text-anchor="start">FD</text>
<text x="241" y="49.6" font-size="9.7" fill="#0a0a0a"><tspan font-style="italic">R</tspan><tspan font-size="5.8" dy="1.6" dx="0.3">8</tspan></text>
<text x="234.6" y="61" font-size="8.6" fill="#0a0a0a" text-anchor="start">27k</text>
<text x="279" y="47.6" font-size="9.7" fill="#0a0a0a"><tspan font-style="italic">R</tspan><tspan font-size="5.8" dy="1.6" dx="0.3">9</tspan></text>
<text x="279" y="56.4" font-size="8.6" fill="#0a0a0a" text-anchor="start">5.1k</text>
<text x="285.6" y="69.6" font-size="9.7" fill="#0a0a0a"><tspan font-style="italic">C</tspan><tspan font-size="5.8" dy="1.6" dx="0.3">8</tspan></text>
<text x="282.6" y="80.6" font-size="8.6" fill="#0a0a0a" text-anchor="start">0.33</text>
<text x="236" y="76" font-size="9.7" fill="#0a0a0a"><tspan font-style="italic">R</tspan><tspan font-size="5.8" dy="1.6" dx="0.3">10</tspan></text>
<text x="235" y="88" font-size="8.6" fill="#0a0a0a" text-anchor="start">27k</text>
<text x="286" y="91" font-size="9.7" fill="#0a0a0a"><tspan font-style="italic">C</tspan><tspan font-size="5.8" dy="1.6" dx="0.3">9</tspan></text>
<text x="274.4" y="102.6" font-size="8.6" fill="#0a0a0a" text-anchor="start">1500 P</text>
<text x="304" y="89" font-size="9.7" fill="#0a0a0a"><tspan font-style="italic">R</tspan><tspan font-size="5.8" dy="1.6" dx="0.3">13</tspan></text>
<text x="301" y="102.6" font-size="8.6" fill="#0a0a0a" text-anchor="start">20k</text>
<text x="279" y="122.6" font-size="9.7" fill="#0a0a0a"><tspan font-style="italic">R</tspan><tspan font-size="5.8" dy="1.6" dx="0.3">11</tspan></text>
<text x="300" y="122.6" font-size="8.6" fill="#0a0a0a" text-anchor="start">2</text>
<text x="289" y="135" font-size="9.7" fill="#0a0a0a"><tspan font-style="italic">R</tspan><tspan font-size="5.8" dy="1.6" dx="0.3">15</tspan></text>
<text x="321.6" y="135" font-size="9.7" fill="#0a0a0a"><tspan font-style="italic">R</tspan><tspan font-size="5.8" dy="1.6" dx="0.3">16</tspan></text>
<text x="262" y="146.2" font-size="9.7" fill="#0a0a0a"><tspan font-style="italic">C</tspan><tspan font-size="5.8" dy="1.6" dx="0.3">10</tspan></text>
<text x="287.6" y="154.6" font-size="8.6" fill="#0a0a0a" text-anchor="start">1.1k</text>
<text x="311" y="154.6" font-size="8.6" fill="#0a0a0a" text-anchor="start">0.1 / 2W</text>
<text x="262.6" y="162" font-size="8.6" fill="#0a0a0a" text-anchor="start">1n</text>
<text x="282.6" y="197.6" font-size="9.7" fill="#0a0a0a"><tspan font-style="italic">R</tspan><tspan font-size="5.8" dy="1.6" dx="0.3">12</tspan></text>
<text x="303.2" y="200.4" font-size="8.6" fill="#0a0a0a" text-anchor="start">2</text>
<text x="299" y="221" font-size="9.7" fill="#0a0a0a"><tspan font-style="italic">R</tspan><tspan font-size="5.8" dy="1.6" dx="0.3">14</tspan></text>
<text x="298" y="232.8" font-size="8.6" fill="#0a0a0a" text-anchor="start">20k</text>
<text x="336" y="76" font-size="9.4" fill="#0a0a0a"><tspan>VT</tspan><tspan font-size="5.8" dy="1.6" dx="0.3">1</tspan></text>
<text x="327.3" y="88.2" font-size="9.2" fill="#0a0a0a" text-anchor="start" textLength="29">IRF 630</text>
<text x="337" y="187.6" font-size="9.4" fill="#0a0a0a"><tspan>VT</tspan><tspan font-size="5.8" dy="1.6" dx="0.3">2</tspan></text>
<text x="328.6" y="197.2" font-size="9.2" fill="#0a0a0a" text-anchor="start" textLength="29.2">IRF 630</text>
<text x="353.2" y="97.4" font-size="7.5" fill="#0a0a0a" text-anchor="start" font-weight="bold" style="font-family:'Liberation Sans',sans-serif">D</text>
<text x="340.6" y="114.2" font-size="7.6" fill="#0a0a0a" text-anchor="start" font-weight="bold" style="font-family:'Liberation Sans',sans-serif">G</text>
<text x="353.6" y="117.4" font-size="7.2" fill="#0a0a0a" text-anchor="start" font-weight="bold" style="font-family:'Liberation Sans',sans-serif">S</text>
<text x="352.4" y="207.8" font-size="7" fill="#0a0a0a" text-anchor="start" font-weight="bold" style="font-family:'Liberation Sans',sans-serif">S</text>
<text x="338.6" y="211.8" font-size="7.6" fill="#0a0a0a" text-anchor="start" font-weight="bold" style="font-family:'Liberation Sans',sans-serif">G</text>
<text x="352.8" y="228.2" font-size="7" fill="#0a0a0a" text-anchor="start" font-weight="bold" style="font-family:'Liberation Sans',sans-serif">D</text>
<text x="386" y="39" font-size="9.7" fill="#0a0a0a"><tspan font-style="italic">C</tspan><tspan font-size="5.8" dy="1.6" dx="0.3">27</tspan></text>
<text x="381.8" y="49" font-size="8.6" fill="#0a0a0a" text-anchor="start" textLength="22.6">1000 P</text>
<text x="385" y="70.8" font-size="9.7" fill="#0a0a0a"><tspan font-style="italic">R</tspan><tspan font-size="5.8" dy="1.6" dx="0.3">17</tspan></text>
<text x="385.6" y="80.2" font-size="8.6" fill="#0a0a0a" text-anchor="start">18</text>
<text x="397" y="119.2" font-size="9.7" fill="#0a0a0a"><tspan>T</tspan><tspan font-size="5.8" dy="1.6" dx="0.3">1</tspan></text>
<text x="374" y="150" font-size="9.7" fill="#0a0a0a"><tspan font-style="italic">U</tspan><tspan font-size="5.8" dy="1.6" dx="0.3">in</tspan></text>
<text x="391" y="204.8" font-size="9" fill="#0a0a0a" text-anchor="start">BYQ</text>
<text x="416.6" y="184.4" font-size="8.6" fill="#0a0a0a" text-anchor="start">5 VGND</text>
<text x="433.6" y="150.6" font-size="8.4" fill="#0a0a0a" transform="rotate(-90 433.6 150.6)"><tspan font-style="italic">N</tspan><tspan font-size="5.8" dy="1.6" dx="0.3">3</tspan></text>
<text x="445.2" y="175" font-size="8.6" fill="#0a0a0a" text-anchor="start" transform="rotate(-90 445.2 175)" letter-spacing="0.85" stroke-width="0.4">MBR20100</text>
<text x="457" y="97.6" font-size="9.7" fill="#0a0a0a"><tspan font-style="italic">C</tspan><tspan font-size="5.8" dy="1.6" dx="0.3">11</tspan></text>
<text x="449" y="132.6" font-size="8.6" fill="#0a0a0a" text-anchor="start">4700 P</text>
<text x="484.4" y="119" font-size="9.7" fill="#0a0a0a"><tspan font-style="italic">R</tspan><tspan font-size="5.8" dy="1.6" dx="0.3">19</tspan></text>
<text x="483" y="130" font-size="8.6" fill="#0a0a0a" text-anchor="start">4.7</text>
<text x="460.4" y="185.4" font-size="9.7" fill="#0a0a0a"><tspan font-style="italic">C</tspan><tspan font-size="5.8" dy="1.6" dx="0.3">12</tspan></text>
<text x="455.9" y="218.7" font-size="8.6" fill="#0a0a0a" text-anchor="start" textLength="25">4700 P</text>
<text x="483" y="187" font-size="9.7" fill="#0a0a0a"><tspan font-style="italic">R</tspan><tspan font-size="5.8" dy="1.6" dx="0.3">20</tspan></text>
<text x="482.8" y="197.4" font-size="8.6" fill="#0a0a0a" text-anchor="start">4.7</text>
<text x="513" y="137.4" font-size="9.7" fill="#0a0a0a"><tspan font-style="italic">L</tspan><tspan font-size="5.8" dy="1.6" dx="0.3">1</tspan></text>
<text x="525.4" y="137.4" font-size="8.6" fill="#0a0a0a" text-anchor="start">10 µH</text>
<text x="565" y="148" font-size="8.6" fill="#0a0a0a" text-anchor="start" textLength="52.6">4700 µF  / 10 v</text>
<text x="631.4" y="153.8" font-size="8.6" fill="#0a0a0a" text-anchor="start">5v</text>
<text x="512" y="172" font-size="9.7" fill="#0a0a0a"><tspan font-style="italic">C</tspan><tspan font-size="5.8" dy="1.6" dx="0.3">31</tspan></text>
<text x="509.4" y="183" font-size="8.6" fill="#0a0a0a" text-anchor="start">4700 P</text>
<text x="571.4" y="168.6" font-size="9.7" fill="#0a0a0a"><tspan font-style="italic">C</tspan><tspan font-size="5.8" dy="1.6" dx="0.3">14</tspan></text>
<text x="605" y="168.6" font-size="9.7" fill="#0a0a0a"><tspan font-style="italic">C</tspan><tspan font-size="5.8" dy="1.6" dx="0.3">15</tspan></text>
<text x="606.8" y="183" font-size="8.6" fill="#0a0a0a" text-anchor="start">0.47</text>
<text x="578" y="208.4" font-size="9.1" fill="#0a0a0a" text-anchor="start">5VGND</text>
<text x="614.6" y="228" font-size="8.6" fill="#0a0a0a" text-anchor="start">5v</text>
<text x="529.4" y="245.6" font-size="9.7" fill="#0a0a0a"><tspan font-style="italic">R</tspan><tspan font-size="5.8" dy="1.6" dx="0.3">24</tspan></text>
<text x="530" y="256.4" font-size="8.6" fill="#0a0a0a" text-anchor="start" textLength="11.8">510</text>
<text x="569" y="245.6" font-size="9.7" fill="#0a0a0a"><tspan font-style="italic">R</tspan><tspan font-size="5.8" dy="1.6" dx="0.3">25</tspan></text>
<text x="569.8" y="256.4" font-size="8.6" fill="#0a0a0a" text-anchor="start">2 k</text>
<text x="641.4" y="273.8" font-size="9.7" fill="#0a0a0a"><tspan font-style="italic">R</tspan><tspan font-size="5.8" dy="1.6" dx="0.3">27</tspan></text>
<text x="639.4" y="285" font-size="8.6" fill="#0a0a0a" text-anchor="start">5.1k</text>
<text x="583.2" y="303" font-size="9.7" fill="#0a0a0a"><tspan font-style="italic">R</tspan><tspan font-size="5.8" dy="1.6" dx="0.3">26</tspan></text>
<text x="582.8" y="315.8" font-size="8.6" fill="#0a0a0a" text-anchor="start" textLength="14">10 k</text>
<text x="541.6" y="329.6" font-size="9.7" fill="#0a0a0a"><tspan font-style="italic">C</tspan><tspan font-size="5.8" dy="1.6" dx="0.3">18</tspan></text>
<text x="541.6" y="345.6" font-size="8.6" fill="#0a0a0a" text-anchor="start">1500 P</text>
<text x="618.2" y="329.6" font-size="9.7" fill="#0a0a0a"><tspan font-style="italic">C</tspan><tspan font-size="5.8" dy="1.6" dx="0.3">17</tspan></text>
<text x="616.6" y="345.6" font-size="8.6" fill="#0a0a0a" text-anchor="start">47 n</text>
<text x="640.8" y="358.8" font-size="9.7" fill="#0a0a0a"><tspan font-style="italic">R</tspan><tspan font-size="5.8" dy="1.6" dx="0.3">28</tspan></text>
<text x="637.8" y="370.6" font-size="8.6" fill="#0a0a0a" text-anchor="start">5.1k</text>
<text x="576.6" y="387.6" font-size="9.1" fill="#0a0a0a" text-anchor="start">5VGND</text>
<text x="399.4" y="255.8" font-size="9.7" fill="#0a0a0a"><tspan font-style="italic">U</tspan><tspan font-size="5.8" dy="1.6" dx="0.3">in</tspan></text>
<text x="425.8" y="257.6" font-size="9.7" fill="#0a0a0a"><tspan font-style="italic">R</tspan><tspan font-size="5.8" dy="1.6" dx="0.3">21</tspan></text>
<text x="455.8" y="257.6" font-size="9.7" fill="#0a0a0a"><tspan font-style="italic">R</tspan><tspan font-size="5.8" dy="1.6" dx="0.3">22</tspan></text>
<text x="423.8" y="277.6" font-size="8.6" fill="#0a0a0a" text-anchor="start">1.5k</text>
<text x="453.8" y="277.6" font-size="8.6" fill="#0a0a0a" text-anchor="start">200</text>
<text x="505" y="267.4" font-size="9.7" fill="#0a0a0a"><tspan font-style="italic">U</tspan><tspan font-size="5.8" dy="1.6" dx="0.3">2</tspan></text>
<text x="443.8" y="300.6" font-size="9.2" fill="#0a0a0a" text-anchor="start">FD</text>
<text x="493" y="314.2" font-size="8.6" fill="#0a0a0a" text-anchor="start">PC 817 B</text>
<text x="456.4" y="330.4" font-size="9.7" fill="#0a0a0a"><tspan font-style="italic">R</tspan><tspan font-size="5.8" dy="1.6" dx="0.3">23</tspan></text>
<text x="454.8" y="342.6" font-size="8.6" fill="#0a0a0a" text-anchor="start">1.1k</text>
<text x="491.8" y="357" font-size="9" fill="#0a0a0a" text-anchor="start">TL431</text>
<text x="516.6" y="371.2" font-size="9.7" fill="#0a0a0a"><tspan font-style="italic">U</tspan><tspan font-size="5.8" dy="1.6" dx="0.3">3</tspan></text>
</g>
</svg>
<div class="wm1">电子发烧友</div>
<div class="wm2">www.elecfans.com</div>
<p class="cap"><span style="left:255.8px">图</span><span class="l" style="left:267px">3</span><span class="l" style="left:285.4px">DC—DC</span><span style="left:319px;letter-spacing:-0.05px">推挽变换器原理图</span></p>
</body>
</html>
